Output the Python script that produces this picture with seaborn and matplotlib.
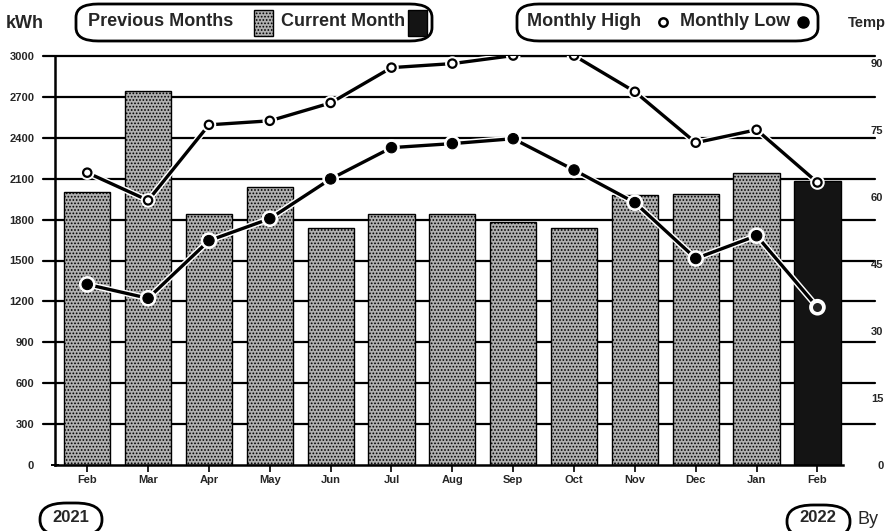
import matplotlib
matplotlib.use("Agg")
import matplotlib.pyplot as plt
import matplotlib.patheffects as pe
from matplotlib.patches import FancyBboxPatch, Rectangle
from matplotlib.lines import Line2D
import seaborn as sns
import pandas as pd

months = ["Feb", "Mar", "Apr", "May", "Jun", "Jul", "Aug", "Sep", "Oct", "Nov", "Dec", "Jan", "Feb"]
kwh = [2000, 2740, 1840, 2040, 1740, 1840, 1840, 1780, 1740, 1980, 1990, 2140, 2080]
temp_high = [65.4, 59.2, 76.1, 77.0, 81.0, 88.9, 89.8, 91.6, 91.6, 83.5, 72.1, 75.0, 63.2]
temp_low = [40.4, 37.3, 50.2, 55.1, 64.0, 71.0, 71.9, 73.0, 66.0, 58.7, 46.2, 51.3, 35.3]
kwh_ticks = [0, 300, 600, 900, 1200, 1500, 1800, 2100, 2400, 2700, 3000]
temp_ticks = [0, 15, 30, 45, 60, 75, 90]

sns.set_theme(style="white")
FONT = ["Liberation Sans", "DejaVu Sans"]
plt.rcParams["font.family"] = FONT
plt.rcParams["font.weight"] = "bold"
plt.rcParams["hatch.color"] = "#3c3c3c"
plt.rcParams["hatch.linewidth"] = 0.8

W, H = 887, 531
fig = plt.figure(figsize=(W / 100, H / 100), dpi=100)
ax = fig.add_axes([55 / W, 1 - 465 / H, (843 - 55) / W, (465 - 56) / H])

pos = list(range(len(months)))
df = pd.DataFrame({"pos": pos, "kwh": kwh, "high": temp_high, "low": temp_low})
colors = ["#b0b0b0"] * (len(months) - 1) + ["#141414"]

for y in kwh_ticks[1:]:
    ax.plot([-0.72, 12.95], [y, y], color="black", lw=1.6, zorder=0.5, clip_on=False)

sns.barplot(data=df, x="pos", y="kwh", hue="pos", palette=colors, legend=False,
            width=0.76, edgecolor="black", linewidth=1.0, ax=ax, zorder=2)
for i, p in enumerate(ax.patches):
    if i < len(months) - 1:
        p.set_hatch(".....")
    p.set_zorder(2)

ax.set_xlim(-0.53, 12.42)
ax.set_ylim(0, 3000)
ax.set_yticks(kwh_ticks)
ax.set_yticklabels([str(t) for t in kwh_ticks], fontsize=8, fontweight="bold")
ax.set_xticks(pos)
ax.set_xticklabels(months, fontsize=8, fontweight="bold")
ax.set_xlabel("")
ax.set_ylabel("")
for s in ["top", "right"]:
    ax.spines[s].set_visible(False)
ax.spines["left"].set_color("black")
ax.spines["left"].set_linewidth(1.8)
ax.spines["bottom"].set_color("black")
ax.spines["bottom"].set_linewidth(1.8)
ax.tick_params(axis="y", which="both", left=True, length=6, width=1.4, color="black", pad=12, direction="inout")
ax.tick_params(axis="x", which="both", bottom=True, length=5, width=1.2, color="black", pad=2)

ax2 = ax.twinx()
halo = [pe.withStroke(linewidth=4.5, foreground="white")]
sns.lineplot(data=df, x="pos", y="high", ax=ax2, color="black", lw=2.4, marker="o",
             markersize=6, markerfacecolor="white", markeredgecolor="black",
             markeredgewidth=1.6, zorder=5, path_effects=halo)
sns.lineplot(data=df, x="pos", y="low", ax=ax2, color="black", lw=2.4, marker="o",
             markersize=7.5, markerfacecolor="black", markeredgecolor="black",
             zorder=5, path_effects=halo)
ax2.plot([pos[-1]], [temp_low[-1]], "o", ms=8, mfc="#222222", mec="white", mew=1.5, zorder=6)
ax2.set_ylim(0, 91.5)
ax2.set_yticks(temp_ticks)
ax2.set_yticklabels([str(t) for t in temp_ticks], fontsize=8, fontweight="bold", ha="right")
ax2.tick_params(axis="y", right=False, length=0, pad=29)
ax2.set_ylabel("")
ax2.set_xlabel("")
for s in ["top", "right", "left", "bottom"]:
    ax2.spines[s].set_visible(False)
ax2.grid(False)
ax.grid(False)


def fx(px):
    return px / W


def fy(py):
    return 1 - py / H


def pill(x0, y0, x1, y1, rad=0.02):
    b = FancyBboxPatch((fx(x0), fy(y1)), fx(x1) - fx(x0), fy(y0) - fy(y1),
                       boxstyle=f"round,pad=0,rounding_size={rad}", transform=fig.transFigure,
                       facecolor="white", edgecolor="black", linewidth=2, zorder=10)
    fig.patches.append(b)


pill(76, 4, 432, 41, rad=0.025)
pill(517, 4, 818, 41, rad=0.025)
fs = 13
fig.text(fx(6), fy(23), "kWh", fontsize=fs, fontweight="bold", va="center", ha="left", zorder=11)
fig.text(fx(88), fy(22), "Previous Months", fontsize=fs, fontweight="bold", va="center", ha="left", zorder=11)
fig.patches.append(Rectangle((fx(254), fy(36)), fx(19), fy(0) - fy(26), transform=fig.transFigure,
                             facecolor="#b0b0b0", edgecolor="black", hatch=".....", lw=1, zorder=11))
fig.text(fx(281), fy(22), "Current Month", fontsize=fs, fontweight="bold", va="center", ha="left", zorder=11)
fig.patches.append(Rectangle((fx(408), fy(36)), fx(19), fy(0) - fy(26), transform=fig.transFigure,
                             facecolor="#141414", edgecolor="black", lw=1, zorder=11))
fig.text(fx(527), fy(22), "Monthly High", fontsize=fs, fontweight="bold", va="center", ha="left", zorder=11)
fig.lines.append(Line2D([fx(663)], [fy(22)], marker="o", ms=6, mfc="white", mec="black", mew=1.8,
                        transform=fig.transFigure, zorder=11))
fig.text(fx(680), fy(22), "Monthly Low", fontsize=fs, fontweight="bold", va="center", ha="left", zorder=11)
fig.lines.append(Line2D([fx(803)], [fy(22)], marker="o", ms=8, mfc="black", mec="black",
                        transform=fig.transFigure, zorder=11))
fig.text(fx(848), fy(23), "Temp", fontsize=10.5, fontweight="bold", va="center", ha="left", zorder=11)

pill(40, 503, 102, 536, rad=0.03)
fig.text(fx(71), fy(517), "2021", fontsize=12, fontweight="bold", va="center", ha="center", zorder=11)
pill(787, 505, 850, 538, rad=0.03)
fig.text(fx(818), fy(518), "2022", fontsize=12, fontweight="bold", va="center", ha="center", zorder=11)
fig.text(fx(858), fy(520), "By", fontsize=13, fontweight="normal", va="center", ha="left", zorder=11)

fig.savefig("out.png", dpi=100)
